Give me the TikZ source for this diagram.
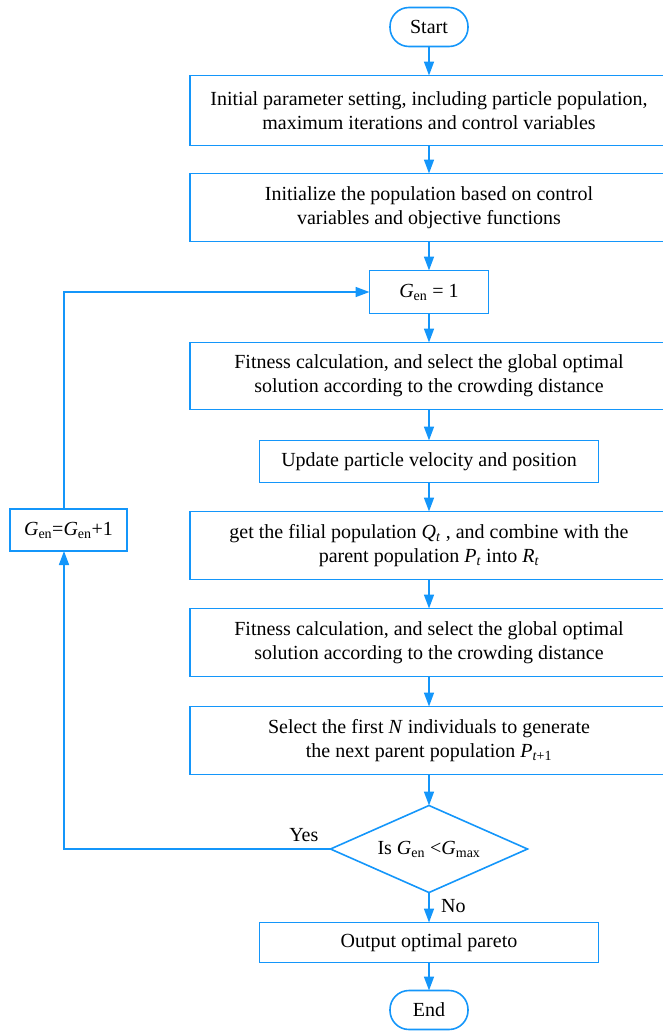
\documentclass[tikz,border=0pt]{standalone}
\usepackage{fontspec}
\setmainfont{Liberation Serif}
\usetikzlibrary{arrows.meta, positioning, shapes.geometric}
\definecolor{flowblue}{RGB}{20,150,250}
\newcommand{\Gen}{\textit{G}\textsubscript{en}}

\begin{document}
\begin{tikzpicture}[
    font=\fontsize{20}{24}\selectfont,
    x=1pt, y=1pt,
    widebox/.style={draw=flowblue, line width=1.6pt, align=center, minimum width=478pt, minimum height=68pt, inner sep=0pt, outer sep=0pt},
    narrowbox/.style={draw=flowblue, line width=1.6pt, align=center, minimum width=339pt, minimum height=42pt, inner sep=0pt, outer sep=0pt},
    terminal/.style={draw=flowblue, line width=1.6pt, rounded corners=19pt, minimum width=78pt, minimum height=39pt, inner sep=0pt, outer sep=0pt},
    decision/.style={draw=flowblue, line width=1.6pt, diamond, aspect=2.26, minimum width=197pt, minimum height=87pt, inner sep=0pt, outer sep=0pt},
    arrow/.style={-{Triangle[length=14pt,width=10pt]}, flowblue, line width=1.6pt},
    answer/.style={text=black}
]
  \useasboundingbox (0,0) rectangle (663,-1031);

  \node[terminal] (start) at (429,-27) {Start};
  \node[widebox, minimum height=70pt, below=29pt of start] (init) {Initial parameter setting, including particle population,\\maximum iterations and control variables};
  \node[widebox, below=28pt of init] (pop) {Initialize the population based on control\\variables and objective functions};
  \node[narrowbox, minimum width=119pt, minimum height=43pt, below=29pt of pop] (gone) {\Gen{} = 1};
  \node[widebox, minimum height=67pt, below=29pt of gone] (fit1) {Fitness calculation, and select the global optimal\\solution according to the crowding distance};
  \node[narrowbox, below=31pt of fit1] (upd) {Update particle velocity and position};
  \node[widebox, below=29pt of upd] (comb) {get the filial population \textit{Q}\textsubscript{\textit{t}} , and combine with the\\parent population \textit{P}\textsubscript{\textit{t}} into \textit{R}\textsubscript{\textit{t}}};
  \node[widebox, below=29pt of comb] (fit2) {Fitness calculation, and select the global optimal\\solution according to the crowding distance};
  \node[widebox, below=30pt of fit2] (sel) {Select the first \textit{N} individuals to generate\\the next parent population \textit{P}\textsubscript{\textit{t}+1}};
  \node[decision, below=31pt of sel] (check) {Is \Gen{} <\textit{G}\textsubscript{max}};
  \node[narrowbox, minimum height=40pt, below=30pt of check] (out) {Output optimal pareto};
  \node[terminal, below=28pt of out] (end) {End};

  \node[narrowbox, minimum width=117pt, minimum height=42pt] (gplus) at (68.5,-530) {\Gen=\Gen+1};
  \coordinate (loop) at (64,-530);

  \draw[arrow] (start) -- (init);
  \draw[arrow] (init) -- (pop);
  \draw[arrow] (pop) -- (gone);
  \draw[arrow] (gone) -- (fit1);
  \draw[arrow] (fit1) -- (upd);
  \draw[arrow] (upd) -- (comb);
  \draw[arrow] (comb) -- (fit2);
  \draw[arrow] (fit2) -- (sel);
  \draw[arrow] (sel) -- (check);
  \draw[arrow] (check) -- node[answer, pos=0.45, right=8pt] {No} (out);
  \draw[arrow] (out) -- (end);

  % loop back
  \draw[arrow] (check.west) -- node[answer, pos=0.1, above=3pt] {Yes} (check.west -| loop) -- (gplus.south -| loop);
  \draw[arrow] (gplus.north -| loop) |- (gone.west);
\end{tikzpicture}
\end{document}
